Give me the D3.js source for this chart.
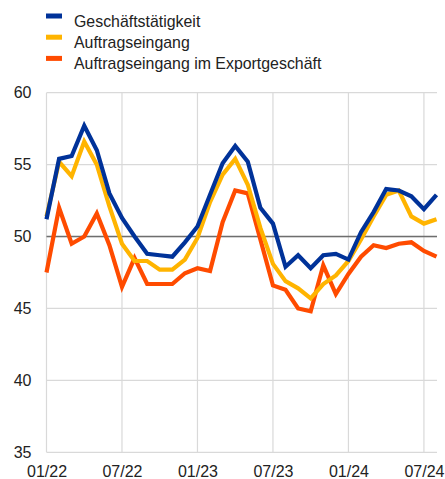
<!DOCTYPE html>
<html>
<head>
<meta charset="utf-8">
<script src="https://cdn.jsdelivr.net/npm/d3@7"></script>
<style>
  body { margin: 0; background: #fff; }
  text { font-family: "Liberation Sans", Arial, sans-serif; fill: #222; }
</style>
</head>
<body>
<div id="container"></div>
<script>
let w = 445;
let h = 479;

// monthly, 01/22 .. 08/24
let months = d3.range(32);
let tickIdx = [0, 6, 12, 18, 24, 30];
let tickLabels = ["01/22", "07/22", "01/23", "07/23", "01/24", "07/24"];
let yTicks = [35, 40, 45, 50, 55, 60];

let seriesNames = ["Geschäftstätigkeit", "Auftragseingang", "Auftragseingang im Exportgeschäft"];
let colors = ["#003299", "#ffb400", "#ff4b00"];

let activity = [51.2, 55.4, 55.6, 57.7, 56.0, 53.0, 51.3, 50.0, 48.8, 48.7, 48.6, 49.6,
                50.7, 52.9, 55.1, 56.3, 55.2, 52.0, 50.9, 47.9, 48.7, 47.8, 48.7, 48.8,
                48.4, 50.3, 51.7, 53.3, 53.2, 52.8, 51.9, 52.9];
let orders = [51.4, 55.2, 54.2, 56.6, 55.0, 52.1, 49.5, 48.3, 48.3, 47.7, 47.7, 48.4,
              49.9, 52.4, 54.3, 55.4, 53.6, 50.6, 48.1, 46.9, 46.4, 45.7, 46.7, 47.3,
              48.3, 49.8, 51.4, 52.9, 53.2, 51.4, 50.9, 51.2];
let exportOrders = [47.5, 52.0, 49.5, 50.0, 51.6, 49.4, 46.5, 48.5, 46.7, 46.7, 46.7, 47.45,
                    47.8, 47.6, 51.0, 53.2, 53.0, 49.8, 46.6, 46.3, 45.0, 44.8, 48.0, 46.0,
                    47.4, 48.6, 49.4, 49.2, 49.5, 49.6, 49.0, 48.6];

let allSeries = [activity, orders, exportOrders];

let padL = 46.5, padR = 437, padT = 92.7, padB = 452.3;

let viz = d3.select('#container')
  .append('svg')
    .attr('width', w)
    .attr('height', h)
;

let xScale = d3.scaleLinear().domain([0, 31]).range([padL, padR - 0.5]);
let yScale = d3.scaleLinear().domain([35, 60]).range([padB, padT]);

// grid
let grid = viz.append("g").classed("grid", true);
grid.selectAll("line.h").data(yTicks).enter().append("line")
  .attr("x1", padL).attr("x2", padR)
  .attr("y1", d => yScale(d)).attr("y2", d => yScale(d))
  .attr("stroke", "#d9d9d9").attr("stroke-width", 1.2);
grid.selectAll("line.v").data(tickIdx).enter().append("line")
  .attr("x1", d => xScale(d)).attr("x2", d => xScale(d))
  .attr("y1", padT).attr("y2", padB)
  .attr("stroke", "#d9d9d9").attr("stroke-width", 1.2);

// 50 reference line
viz.append("line")
  .attr("x1", padL).attr("x2", padR)
  .attr("y1", yScale(50)).attr("y2", yScale(50))
  .attr("stroke", "#6e6e6e").attr("stroke-width", 1.6);

// axes (labels only)
let yAxis = d3.axisLeft(yScale).tickValues(yTicks).tickSize(0).tickPadding(15);
viz.append("g").attr("transform", "translate(" + padL + ",0)").call(yAxis)
  .call(g => g.select(".domain").remove())
  .selectAll("text").style("font-size", "16px").style("font-family", '"Liberation Sans", Arial, sans-serif');

let xAxis = d3.axisBottom(xScale).tickValues(tickIdx).tickFormat((d, i) => tickLabels[i]).tickSize(0).tickPadding(13);
viz.append("g").attr("transform", "translate(0," + padB + ")").call(xAxis)
  .call(g => g.select(".domain").remove())
  .selectAll("text").style("font-size", "16px").style("font-family", '"Liberation Sans", Arial, sans-serif');

viz.selectAll(".tick text").attr("fill", "#222");

// lines, drawn back to front
let line = d3.line().x((d, i) => xScale(months[i])).y(d => yScale(d));
let order = [2, 1, 0];
viz.append("g").selectAll("path").data(order).enter().append("path")
  .attr("d", k => line(allSeries[k]))
  .attr("fill", "none")
  .attr("stroke", k => colors[k])
  .attr("stroke-width", 4.2)
  .attr("stroke-linejoin", "miter");

// legend
let legend = viz.append("g").classed("legend", true);
legend.selectAll("rect").data(seriesNames).enter().append("rect")
  .attr("x", 46).attr("y", (d, i) => 13.5 + i * 21.2)
  .attr("width", 16).attr("height", 5)
  .attr("fill", (d, i) => colors[i]);
legend.selectAll("text").data(seriesNames).enter().append("text")
  .attr("x", 74).attr("y", (d, i) => 21 + i * 21.2)
  .attr("dy", "0.35em")
  .style("font-size", "15.9px")
  .text(d => d);
</script>
</body>
</html>
